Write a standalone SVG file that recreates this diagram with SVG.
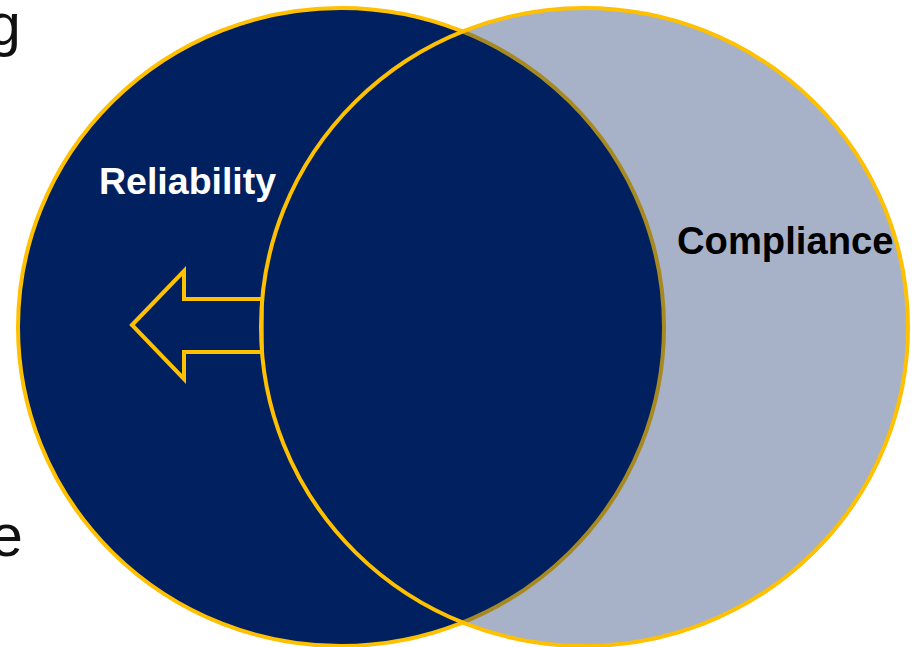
<svg xmlns="http://www.w3.org/2000/svg" width="914" height="647" viewBox="0 0 914 647">
<style>
.ring{stroke:#FFC000;stroke-width:4}
.lbl{font-family:"Liberation Sans",Arial,sans-serif;font-weight:bold;font-size:37.5px}
.bg{font-family:"Liberation Sans",Arial,sans-serif;font-size:59px;fill:#111}
</style>
<rect width="914" height="647" fill="#fff"/>
<text class="bg" x="-12" y="45">g</text>
<text class="bg" x="-10" y="556">e</text>
<g id="reliability">
<ellipse class="ring" cx="341" cy="327" rx="323" ry="319" fill="#002060"/>
<text class="lbl" x="99" y="194" fill="#fff">Reliability</text>
</g>
<g id="connectors">
<polygon points="132,325 184,271 184,299 262,299 262,352 184,352 184,379" fill="#002060" stroke="#FFC000" stroke-width="4" stroke-linejoin="miter"/>
</g>
<g id="compliance">
<ellipse class="ring" cx="584.5" cy="327" rx="323.5" ry="319" fill="#002060" fill-opacity="0.345"/>
<text class="lbl" x="677" y="254" fill="#000" style="font-size:38.2px">Compliance</text>
</g>
</svg>
